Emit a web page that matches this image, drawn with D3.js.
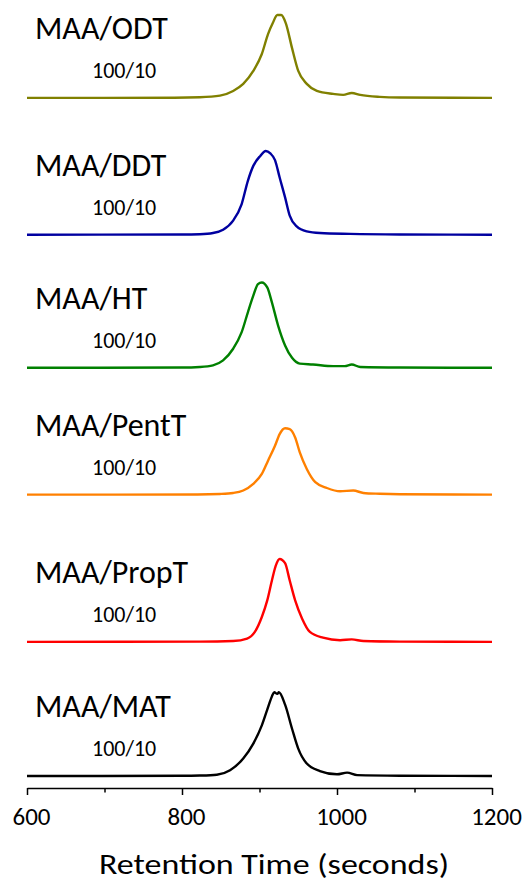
<!DOCTYPE html>
<html>
<head>
<meta charset="utf-8">
<script src="https://cdn.jsdelivr.net/npm/d3@7"></script>
<style>
  body { margin: 0; background: #fff; }
  text { font-family: Carlito, Calibri, "Open Sans", sans-serif; fill: #000; }
</style>
</head>
<body>
<div id="chart"></div>
<script>
// canvas size
var w = 528, h = 882;

// series names, sub labels and colours (top to bottom)
var names = ["MAA/ODT", "MAA/DDT", "MAA/HT", "MAA/PentT", "MAA/PropT", "MAA/MAT"];
var ratios = ["100/10", "100/10", "100/10", "100/10", "100/10", "100/10"];
var colors = ["#808000", "#0000a0", "#008000", "#ff8000", "#ff0000", "#000000"];
// vertical offset of each trace (signal units)
var offsets = [8.325, 6.675, 5.069, 3.539, 1.763, 0.145];

// traces: [retention time (s), relative signal]
var odt = [[600,0],[790,0.002],[823,0.008],[849,0.028],[866,0.084],[879,0.169],[892,0.325],[903,0.53],[911,0.77],[917,0.9],[923,1.0],[928,1.0],[934,0.9],[942,0.6],[950,0.325],[961,0.169],[974,0.084],[995,0.048],[1008,0.036],[1019,0.06],[1030,0.036],[1055,0.012],[1081,0.004],[1200,0]];
var ddt = [[600,0],[800,0.002],[823,0.006],[840,0.02],[853,0.06],[866,0.17],[877,0.37],[885,0.65],[892,0.83],[901,0.95],[908,1.01],[914,0.98],[920,0.9],[926,0.69],[933,0.45],[939,0.23],[948,0.1],[961,0.04],[978,0.02],[1017,0.01],[1081,0.003],[1200,0]];
var ht = [[600,0],[800,0.003],[823,0.01],[840,0.03],[853,0.09],[866,0.23],[877,0.43],[885,0.67],[892,0.87],[898,1.01],[903,1.03],[910,0.97],[916,0.79],[924,0.51],[933,0.27],[942,0.12],[952,0.05],[969,0.04],[995,0.02],[1010,0.02],[1019,0.04],[1030,0.01],[1081,0.003],[1200,0]];
var pentt = [[600,0],[820,0.002],[849,0.008],[866,0.02],[879,0.05],[892,0.13],[903,0.25],[911,0.41],[920,0.59],[926,0.73],[933,0.8],[939,0.79],[946,0.69],[952,0.51],[961,0.31],[972,0.15],[987,0.08],[1004,0.04],[1021,0.05],[1034,0.02],[1055,0.01],[1081,0.004],[1200,0]];
var propt = [[600,0],[823,0.003],[866,0.01],[884,0.04],[894,0.12],[903,0.3],[910,0.5],[916,0.74],[921,0.92],[926,1.0],[933,0.95],[939,0.74],[946,0.5],[955,0.28],[965,0.12],[982,0.05],[1004,0.02],[1019,0.03],[1034,0.01],[1081,0.003],[1200,0]];
var mat = [[600,0],[800,0.002],[823,0.005],[845,0.015],[862,0.07],[879,0.21],[892,0.39],[903,0.61],[910,0.8],[916,0.96],[919,1.01],[923,0.99],[925,1.01],[933,0.86],[942,0.57],[950,0.33],[961,0.15],[978,0.06],[1000,0.02],[1013,0.04],[1026,0.01],[1081,0.003],[1200,0]];
var traces = [odt, ddt, ht, pentt, propt, mat];

// axis ticks
var majorTicks = [600, 800, 1000, 1200];
var minorTicks = [700, 900, 1100];
var xTitle = "Retention Time (seconds)";

// scales
var xScale = d3.scaleLinear().domain([600, 1200]).range([27, 492]);
var yScale = d3.scaleLinear().domain([0, 9.5]).range([788, 0.5]);

var svg = d3.select("#chart").append("svg")
    .attr("width", w)
    .attr("height", h);

var line = d3.line()
    .x(function(d) { return xScale(d[0]); })
    .y(function(d) { return yScale(d[1]); })
    .curve(d3.curveMonotoneX);

// traces
traces.forEach(function(tr, i) {
  var shifted = tr.map(function(d) { return [d[0], d[1] + offsets[i]]; });
  svg.append("path")
      .datum(shifted)
      .attr("d", line)
      .attr("fill", "none")
      .attr("stroke", colors[i])
      .attr("stroke-width", 2.4)
      .attr("stroke-linejoin", "round");

  var base = yScale(offsets[i]);
  svg.append("text")
      .attr("x", 35)
      .attr("y", base - 59)
      .style("font-size", "32px")
      .text(names[i]);
  svg.append("text")
      .attr("x", 92)
      .attr("y", base - 20)
      .style("font-size", "22px")
      .text(ratios[i]);
});

// x-axis
var xAxis = d3.axisBottom(xScale).tickValues(majorTicks).tickSize(7).tickSizeOuter(0)
    .tickFormat(d3.format("d"));
var gx = svg.append("g")
    .attr("class", "x axis")
    .attr("transform", "translate(0,788)")
    .call(xAxis);
gx.select(".domain").attr("stroke", "#000").attr("stroke-width", 1.5);
gx.selectAll(".tick line").attr("stroke", "#000").attr("stroke-width", 1.5);
gx.selectAll(".tick text")
    .attr("y", 37)
    .attr("dy", 0)
    .attr("dx", 4)
    .style("font-size", "25px")
    .style("font-family", "Carlito, Calibri, 'Open Sans', sans-serif")
    .attr("fill", "#000");

// minor ticks
var gm = svg.append("g")
    .attr("transform", "translate(0,788)")
    .call(d3.axisBottom(xScale).tickValues(minorTicks).tickSize(4.5).tickFormat(""));
gm.select(".domain").remove();
gm.selectAll(".tick line").attr("stroke", "#000").attr("stroke-width", 1.5);

// axis title
svg.append("text")
    .attr("x", 274)
    .attr("y", 874)
    .attr("text-anchor", "middle")
    .attr("textLength", 350)
    .attr("lengthAdjust", "spacingAndGlyphs")
    .style("font-size", "29px")
    .text(xTitle);
</script>
</body>
</html>
